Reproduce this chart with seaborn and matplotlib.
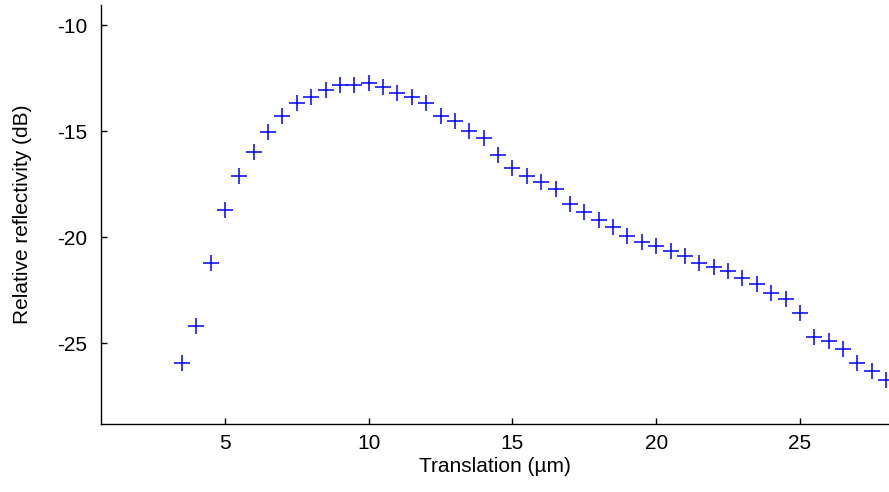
import matplotlib
matplotlib.use("Agg")
import matplotlib.pyplot as plt
import numpy as np
import pandas as pd
import seaborn as sns

# data
translation = [3.5, 4.0, 4.5, 5.0, 5.5, 6.0, 6.5, 7.0, 7.5, 8.0, 8.5, 9.0, 9.5, 10.0,
               10.5, 11.0, 11.5, 12.0, 12.5, 13.0, 13.5, 14.0, 14.5, 15.0, 15.5, 16.0,
               16.5, 17.0, 17.5, 18.0, 18.5, 19.0, 19.5, 20.0, 20.5, 21.0, 21.5, 22.0,
               22.5, 23.0, 23.5, 24.0, 24.5, 25.0, 25.5, 26.0, 26.5, 27.0, 27.5, 28.0]
reflectivity = [-25.9, -24.2, -21.2, -18.7, -17.1, -16.0, -15.05, -14.3, -13.65, -13.4,
                -13.05, -12.8, -12.8, -12.75, -12.9, -13.2, -13.4, -13.65, -14.3, -14.5,
                -15.0, -15.3, -16.1, -16.75, -17.1, -17.4, -17.7, -18.45, -18.8, -19.2,
                -19.5, -19.95, -20.2, -20.4, -20.65, -20.9, -21.2, -21.4, -21.6, -21.9,
                -22.2, -22.6, -22.9, -23.55, -24.7, -24.9, -25.25, -25.9, -26.3, -26.7]
x_ticks = [5, 10, 15, 20, 25]
y_ticks = [-25, -20, -15, -10]

df = pd.DataFrame({"translation": translation, "reflectivity": reflectivity})

sns.set_style("white")
plt.rcParams['font.family'] = ['Liberation Sans', 'DejaVu Sans']
plt.rcParams['axes.unicode_minus'] = False

fig = plt.figure(figsize=(8.89, 4.92), dpi=100)
ax = fig.add_axes([0.1136, 0.138, 0.8864, 0.852])

sns.scatterplot(data=df, x="translation", y="reflectivity", marker="+", s=140,
                color=(0, 0, 1), linewidth=1.1, ax=ax, clip_on=False, zorder=3)

# formatting
ax.set_xlim(0.69, 28.1)
ax.set_ylim(-28.8, -9.05)
ax.set_xticks(x_ticks)
ax.set_yticks(y_ticks)
ax.set_xlabel("Translation (µm)", fontsize=15, labelpad=3, color='black')
ax.set_ylabel("Relative reflectivity (dB)", fontsize=15, labelpad=18, color='black')
ax.tick_params(axis='both', labelsize=15, direction='in', length=4, width=1,
               colors='black', bottom=True, left=True)
ax.tick_params(axis='y', pad=10)
ax.tick_params(axis='x', pad=7)
for side in ['top', 'right']:
    ax.spines[side].set_visible(False)
for side in ['left', 'bottom']:
    ax.spines[side].set_color('black')
    ax.spines[side].set_linewidth(1)

fig.savefig("out.png", dpi=100)
